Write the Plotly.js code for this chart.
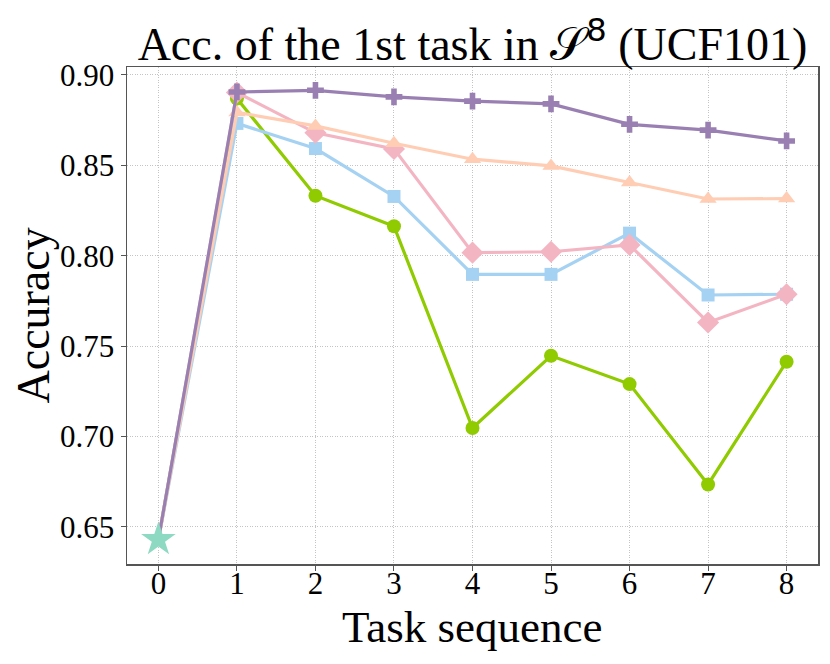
<!DOCTYPE html>
<html>
<head>
<meta charset="utf-8">
<script src="https://cdn.plot.ly/plotly-3.0.1.min.js"></script>
<style>
    html, body { margin: 0; padding: 0; background: #fff; }
    #acc-graph { width: 830px; height: 664px; }
</style>
</head>
<body>
<div id="acc-graph"></div>
<script>
let tasks = [0, 1, 2, 3, 4, 5, 6, 7, 8];
let xTicks = ['0', '1', '2', '3', '4', '5', '6', '7', '8'];
let yTicks = [0.65, 0.70, 0.75, 0.80, 0.85, 0.90];
let initAcc = 0.643;

// accuracy of the first task after each task in the sequence (index 0 = initial)
let greenAcc = [0.643, 0.887, 0.8332, 0.8163, 0.7047, 0.7447, 0.729, 0.6735, 0.7414];
let blueAcc = [0.643, 0.8732, 0.8593, 0.8328, 0.7897, 0.7897, 0.8125, 0.7783, 0.7787];
let pinkAcc = [0.643, 0.8903, 0.868, 0.8591, 0.8017, 0.8022, 0.8060, 0.7631, 0.7787];
let peachAcc = [0.643, 0.8793, 0.8718, 0.8622, 0.8534, 0.8497, 0.8405, 0.8314, 0.8316];
let purpleAcc = [0.643, 0.8906, 0.8915, 0.8879, 0.8855, 0.884, 0.8727, 0.8695, 0.8635];

let serif = 'Liberation Serif, Times New Roman, serif';

let makeSeries = function (values, color, symbol, size) {
    // no marker on the starting point, the star sits there
    let sizes = values.map((v, i) => i == 0 ? 0 : size);
    return {
        x: tasks,
        y: values,
        type: 'scatter',
        mode: 'lines+markers',
        line: { color: color, width: 3.2 },
        marker: { color: color, symbol: symbol, size: sizes, opacity: 1, line: { width: 0 } },
        showlegend: false,
    };
}

let makeGraph = function () {
    let data = [
        makeSeries(greenAcc, '#8fcb00', 'circle', 14),
        makeSeries(blueAcc, '#a5d2f2', 'square', 13),
        makeSeries(pinkAcc, '#f4b5c3', 'diamond', 17),
        makeSeries(peachAcc, '#ffcdb4', 'triangle-up', 15),
        makeSeries(purpleAcc, '#9a80b2', 'cross', 14),
        {
            x: [tasks[0]],
            y: [initAcc],
            type: 'scatter',
            mode: 'markers',
            marker: { color: '#8dd9c1', symbol: 'star', size: 26, opacity: 1, line: { width: 0 } },
            showlegend: false,
        },
    ];

    let axisCommon = {
        showline: true,
        linecolor: '#555',
        linewidth: 1.5,
        mirror: true,
        ticks: 'outside',
        ticklen: 5,
        tickcolor: '#555',
        showgrid: true,
        gridcolor: '#c4c4c4',
        griddash: '1px,1.5px',
        gridwidth: 1,
        zeroline: false,
        tickfont: { family: serif, size: 31, color: '#000' },
    };

    let layout = {
        width: 830,
        height: 664,
        margin: { l: 127, r: 12, t: 67, b: 100 },
        paper_bgcolor: '#fff',
        plot_bgcolor: '#fff',
        font: { family: serif, color: '#000' },
        title: {
            text: 'Acc. of the 1st task in \uD835\uDCAE<sup><span style="font-family:DejaVu Sans">8</span></sup> (UCF101)',
            font: { family: serif, size: 46, color: '#000' },
            x: 0.5,
            xref: 'paper',
            y: 1 - 44 / 664,
            yref: 'container',
            yanchor: 'middle',
        },
        xaxis: Object.assign({}, axisCommon, {
            range: [-0.4, 8.4],
            tickvals: tasks,
            ticktext: xTicks,
            ticklabelstandoff: -14,
        }),
        yaxis: Object.assign({}, axisCommon, {
            range: [0.6295, 0.9044],
            tickvals: yTicks,
            ticktext: yTicks.map(v => v.toFixed(2)),
        }),
        annotations: [
            {
                text: 'Task sequence',
                xref: 'paper', yref: 'paper',
                x: 0.5, y: (564 - 627) / 497,
                xanchor: 'center', yanchor: 'middle',
                showarrow: false,
                font: { family: serif, size: 45, color: '#000' },
            },
            {
                text: 'Accuracy',
                xref: 'paper', yref: 'paper',
                x: (33 - 127) / 691, y: 0.5,
                xanchor: 'center', yanchor: 'middle',
                textangle: -90,
                showarrow: false,
                font: { family: serif, size: 46, color: '#000' },
            },
        ],
    };

    Plotly.newPlot('acc-graph', data, layout, { displayModeBar: false, staticPlot: true });
}

makeGraph();
</script>
</body>
</html>
